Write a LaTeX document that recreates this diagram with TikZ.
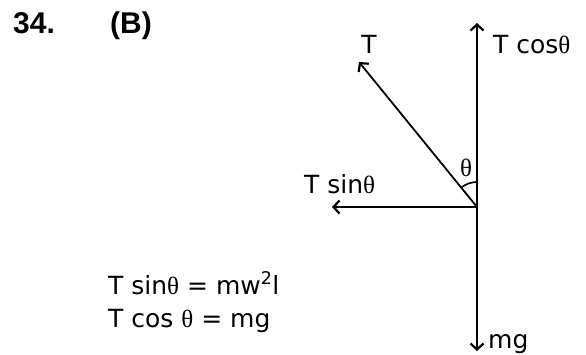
\documentclass[tikz,border=0pt]{standalone}
\usepackage{fontspec}
\setmainfont{DejaVu Sans}
\newfontfamily\headfont{Liberation Sans}
\newfontfamily\greekfont{Liberation Serif}
\newcommand{\thet}{{\greekfont θ}}
\usetikzlibrary{arrows.meta}
\begin{document}
\begin{tikzpicture}[x=1pt, y=-1pt, font=\fontsize{25}{29}\selectfont,
  force/.style={line width=2.2pt, -{Straight Barb[length=6pt, width=13pt, line width=2.2pt]}},
  lbl/.style={anchor=base west, inner sep=0pt},
  head/.style={lbl, font=\headfont\bfseries\fontsize{30}{34}\selectfont}]
\useasboundingbox (0,0) rectangle (586,354);
\coordinate (O) at (477,207);
\coordinate (up) at (477,23);
\coordinate (down) at (477,351);
\coordinate (left) at (332,207);
\coordinate (tip) at (359,62);
\node[head] (num) at (13,33) {34.};
\node[head] (ans) at (110,33) {(B)};
\draw[force] (O) -- (up);
\draw[force] (O) -- (down);
\draw[force] (O) -- (left);
\draw[force, line width=1.8pt] (O) -- (tip);
\draw[line width=1.7pt] (O) ++(270:25) arc[start angle=270, end angle=231, radius=25];
\node[anchor=base, inner sep=0pt] (T) at (369,53) {T};
\node[lbl] (Tcos) at (493,53) {T cos\thet};
\node[lbl] (Tsin) at (304,193) {T sin\thet};
\node[inner sep=0pt] (th) at (466,168) {\thet};
\node[lbl] (mg) at (488,348) {mg};
\node[lbl] (eq1) at (108,294) {T sin\thet{} = mw\textsuperscript{2}l};
\node[lbl] (eq2) at (108,327) {T cos \thet{} = mg};
\end{tikzpicture}
\end{document}
